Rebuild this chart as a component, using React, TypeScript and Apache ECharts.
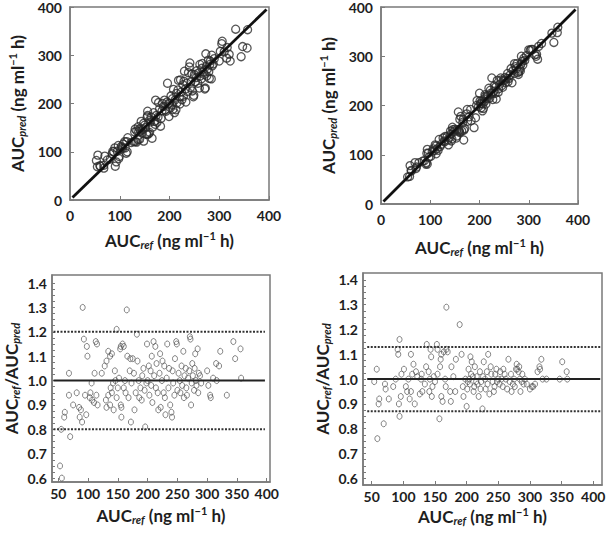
import React, { useEffect, useRef } from "react";
import * as echarts from "echarts";

// ---- Data: left column (panel A) ----
const refA = [
  53, 56, 55, 60, 61, 68, 68, 70, 75, 81, 85, 86, 88, 90, 91, 93, 95, 97, 98, 99,
  103, 104, 106, 107, 110, 111, 113, 115, 114, 116, 123, 128, 130, 131, 131, 134, 134, 137, 137, 138, 140, 140, 142, 143, 145, 146, 148, 148, 150,
  152, 154, 155, 155, 156, 156, 158, 160, 160, 162, 163, 165, 166, 168, 170, 171, 172, 173, 175, 177, 178, 180, 182, 183, 185, 186, 188, 190, 191, 193, 195, 196, 198, 199,
  200, 202, 203, 205, 206, 207, 208, 210, 211, 213, 214, 215, 217, 218, 220, 221, 222, 224, 225, 227, 228, 229, 230, 232, 233, 235, 236, 238, 240, 241, 242, 243, 245, 246, 248, 249, 250,
  252, 254, 255, 257, 258, 260, 261, 262, 264, 265, 266, 268, 270, 271, 272, 273, 274, 275, 276, 278, 279, 280, 281, 282, 284, 285, 286, 288, 290,
  300, 302, 305, 306, 310, 315, 316, 320, 322, 333, 344, 347, 356, 357,
];
const predA = [
  82, 93, 69, 71, 70, 72, 66, 91, 83, 85, 96, 101, 100, 108, 70, 79, 101, 113, 86, 90,
  111, 109, 107, 116, 121, 108, 97, 100, 121, 129, 119, 121, 141, 121, 147, 120, 143, 125, 152, 142, 126, 147, 143, 163, 139, 146, 122, 159, 155,
  150, 136, 136, 172, 175, 184, 137, 140, 165, 162, 172, 128, 151, 181, 163, 157, 207, 175, 161, 172, 202, 189, 153, 169, 185, 200, 194, 207, 187, 184, 203, 242, 200, 173,
  200, 191, 216, 197, 210, 188, 229, 181, 207, 187, 221, 201, 228, 248, 214, 199, 249, 224, 208, 239, 215, 246, 267, 230, 203, 242, 225, 264, 276, 284, 233, 245, 261, 226, 214, 217, 260,
  245, 254, 268, 242, 263, 232, 281, 257, 251, 273, 283, 265, 260, 230, 232, 303, 277, 257, 271, 290, 266, 252, 281, 288, 251, 300, 278, 282, 293,
  288, 308, 324, 329, 307, 294, 316, 302, 288, 354, 297, 318, 315, 353,
];
const ratioA = [
  0.65, 0.6, 0.8, 0.85, 0.87, 0.94, 1.03, 0.77, 0.9, 0.95, 0.89, 0.85, 0.88, 0.83, 1.3, 1.17, 0.94, 0.86, 1.14, 1.1,
  0.93, 0.95, 0.99, 0.92, 0.91, 1.03, 1.16, 1.15, 0.94, 0.9, 1.03, 1.06, 0.92, 1.08, 0.89, 1.12, 0.94, 1.1, 0.9, 0.97, 1.11, 0.95, 0.99, 0.88, 1.04, 1.0, 1.21, 0.93, 0.97,
  1.01, 1.13, 1.14, 0.9, 0.89, 0.85, 1.15, 1.14, 0.97, 1.0, 0.95, 1.29, 1.1, 0.93, 1.04, 1.09, 0.83, 0.99, 1.09, 1.03, 0.88, 0.95, 1.19, 1.08, 1.0, 0.93, 0.97, 0.92, 1.02, 1.05, 0.96, 0.81, 0.99, 1.15,
  1.0, 1.06, 0.94, 1.04, 0.98, 1.1, 0.91, 1.16, 1.02, 1.14, 0.97, 1.07, 0.95, 0.88, 1.03, 1.11, 0.89, 1.0, 1.08, 0.95, 1.06, 0.93, 0.86, 1.01, 1.15, 0.97, 1.05, 0.9, 0.87, 0.85, 1.04, 0.99, 0.94, 1.09, 1.16, 1.15, 0.96,
  1.03, 1.0, 0.95, 1.06, 0.98, 1.12, 0.93, 1.02, 1.05, 0.97, 0.94, 1.01, 1.04, 1.18, 1.17, 0.9, 0.99, 1.07, 1.02, 0.96, 1.05, 1.11, 1.0, 0.98, 1.13, 0.95, 1.03, 1.02, 0.99,
  1.04, 0.98, 0.94, 0.93, 1.01, 1.07, 1.0, 1.06, 1.12, 0.94, 1.16, 1.09, 1.13, 1.01,
];

// ---- Data: right column (panel B) ----
const refB = [
  54, 58, 59, 62, 61, 69, 71, 72, 77, 84, 94, 91, 92, 93, 94, 96, 97, 101, 104, 106,
  108, 110, 112, 114, 116, 118, 122, 126, 129, 130, 134, 136, 137, 140, 141, 142, 143, 144, 145, 146,
  148, 153, 154, 157, 154, 158, 159, 160, 160, 162, 164, 166, 167, 168, 170, 168, 174, 175, 176, 179,
  182, 183, 189, 192, 194, 195, 200, 201, 203, 204, 205, 206, 208, 210, 211, 213, 215, 217, 219, 221,
  223, 225, 227, 229, 230, 232, 234, 236, 239, 241, 243, 245, 247, 250, 252, 255, 258, 260, 266, 268,
  271, 273, 275, 279, 280, 282, 283, 285, 287, 288, 292, 295, 305, 308, 312, 315, 318, 326, 347, 351,
  358, 359,
  198, 202, 207, 212, 216, 222, 226, 233, 238, 244, 248, 253, 257, 262, 264, 270, 276, 278, 284, 290,
  300, 303, 316, 320, 150, 128, 120, 112, 88,
];
const predB = [
  55, 56, 78, 67, 68, 84, 72, 75, 84, 87, 81, 81, 84, 103, 111, 103, 95, 97, 107, 112,
  108, 120, 102, 112, 109, 131, 121, 134, 126, 137, 137, 130, 120, 136, 148, 142, 128, 132, 156, 151,
  147, 134, 138, 187, 151, 150, 147, 145, 172, 178, 148, 166, 172, 150, 153, 130, 183, 192, 168, 177,
  192, 169, 155, 175, 200, 210, 225, 209, 195, 204, 209, 189, 194, 208, 222, 203, 217, 221, 235, 215,
  225, 256, 212, 229, 240, 225, 213, 251, 234, 243, 256, 240, 237, 250, 257, 255, 248, 255, 246, 271,
  285, 279, 275, 263, 269, 274, 270, 300, 290, 282, 292, 301, 314, 314, 303, 300, 294, 326, 347, 328,
  348, 359,
  198, 204, 203, 219, 214, 231, 224, 238, 227, 252, 251, 246, 265, 262, 275, 265, 285, 267, 284, 296,
  313, 312, 304, 320, 152, 128, 117, 118, 88,
];
const ratioB = [
  0.99, 1.04, 0.76, 0.92, 0.9, 0.82, 0.98, 0.96, 0.92, 0.97, 1.16, 1.12, 1.1, 0.9, 0.85, 0.93, 1.02, 1.04, 0.97, 0.95,
  1.0, 0.92, 1.1, 1.02, 1.06, 0.9, 1.01, 0.94, 1.02, 0.95, 0.98, 1.05, 1.14, 1.03, 0.95, 1.0, 1.12, 1.09, 0.93, 0.97,
  1.01, 1.14, 1.12, 0.84, 1.02, 1.05, 1.08, 1.1, 0.93, 0.91, 1.11, 1.0, 0.97, 1.12, 1.11, 1.29, 0.95, 0.91, 1.05, 1.01,
  0.95, 1.08, 1.22, 1.1, 0.97, 0.93, 0.89, 0.96, 1.04, 1.0, 0.98, 1.09, 1.07, 1.01, 0.95, 1.05, 0.99, 0.98, 0.93, 1.03,
  0.99, 0.88, 1.07, 1.0, 0.96, 1.03, 1.1, 0.94, 1.02, 0.99, 0.95, 1.02, 1.04, 1.0, 0.98, 1.0, 1.04, 1.02, 1.08, 0.99,
  0.95, 0.98, 1.0, 1.06, 1.04, 1.03, 1.05, 0.95, 0.99, 1.02, 1.0, 0.98, 0.97, 0.98, 1.03, 1.05, 1.08, 1.0, 1.0, 1.07,
  1.03, 1.0,
  1.0, 0.99, 1.02, 0.97, 1.01, 0.96, 1.01, 0.98, 1.05, 0.97, 0.99, 1.03, 0.97, 1.0, 0.96, 1.02, 0.97, 1.04, 1.0, 0.98,
  0.96, 0.97, 1.04, 1.0, 0.99, 1.0, 1.03, 0.95, 1.0,
];

// ---- Reference lines and ticks ----
const identityEnds = [5, 395];
const unityRatio = 1.0;
const limitsA = [0.8, 1.2];
const limitsB = [0.87, 1.13];
const spanA = [42, 397];
const spanB = [43, 411];
const refTicks = [50, 100, 150, 200, 250, 300, 350, 400];
const ratioTicks = [0.6, 0.7, 0.8, 0.9, 1.0, 1.1, 1.2, 1.3, 1.4];

const FONT = "Lato";
const FRAME = "#7a7a7a";
const TEXT = "#1e1e1e";

const minorRatioTicks: number[] = [];
for (let i = 0; i < ratioTicks.length - 1; i++) {
  for (let k = 0; k < 4; k++) {
    minorRatioTicks.push(+(ratioTicks[i] + (k * 0.1) / 4).toFixed(3));
  }
}
minorRatioTicks.push(ratioTicks[ratioTicks.length - 1]);

const rich = {
  a: { fontFamily: FONT, fontWeight: "bold", fontSize: 17, color: TEXT, lineHeight: 20 },
  s: { fontFamily: FONT, fontWeight: "bold", fontStyle: "italic", fontSize: 11, color: TEXT, lineHeight: 11, verticalAlign: "bottom" },
  p: { fontFamily: FONT, fontWeight: "bold", fontSize: 11, color: TEXT, lineHeight: 11, verticalAlign: "top" },
};
const refName = "{a|AUC}{s|ref}{a| (ng ml}{p|−1}{a| h)}";
const predName = "{a|AUC}{s|pred}{a| (ng ml}{p|−1}{a| h)}";
const ratioName = "{a|AUC}{s|ref}{a|/AUC}{s|pred}";

const labelStyle = { fontFamily: FONT, fontWeight: "bold", fontSize: 14, color: TEXT };

function aucXAxis(grid: number, gap: number) {
  return {
    gridIndex: grid, type: "value", min: 0, max: 400, interval: 100,
    axisLine: { show: true, onZero: false, lineStyle: { color: FRAME, width: 1.5 } },
    axisTick: { show: true, inside: true, length: 4, lineStyle: { color: FRAME } },
    axisLabel: { ...labelStyle, margin: 8 },
    splitLine: { show: false },
    name: refName, nameLocation: "middle", nameGap: gap,
    nameTextStyle: { rich },
  };
}
function aucYAxis(grid: number, gap: number) {
  return {
    gridIndex: grid, type: "value", min: 0, max: 400, interval: 100,
    axisLine: { show: true, onZero: false, lineStyle: { color: FRAME, width: 1.5 } },
    axisTick: { show: true, inside: true, length: 4, lineStyle: { color: FRAME } },
    axisLabel: { ...labelStyle, margin: 8 },
    splitLine: { show: false },
    name: predName, nameLocation: "middle", nameGap: gap, nameRotate: 90,
    nameTextStyle: { rich },
  };
}
function refXAxis(grid: number, min: number, max: number, gap: number) {
  return {
    gridIndex: grid, type: "value", min, max,
    axisLine: { show: true, onZero: false, lineStyle: { color: FRAME, width: 1.5 } },
    axisTick: { show: true, inside: true, length: 4, customValues: refTicks, lineStyle: { color: FRAME } },
    axisLabel: { ...labelStyle, margin: 4, customValues: refTicks },
    splitLine: { show: false },
    name: refName, nameLocation: "middle", nameGap: gap,
    nameTextStyle: { rich },
  };
}
function ratioYAxis(grid: number, min: number, max: number, gap: number) {
  return {
    gridIndex: grid, type: "value", min, max,
    axisLine: { show: true, onZero: false, lineStyle: { color: FRAME, width: 1.5 } },
    axisTick: { show: true, inside: true, length: 3, customValues: minorRatioTicks, lineStyle: { color: FRAME } },
    axisLabel: { ...labelStyle, margin: 5, customValues: ratioTicks, formatter: (v: number) => v.toFixed(1) },
    splitLine: { show: false },
    name: ratioName, nameLocation: "middle", nameGap: gap, nameRotate: 90,
    nameTextStyle: { rich },
  };
}

const topScatterStyle = { color: "rgba(255,255,255,0)", borderColor: "#2a2a2a", borderWidth: 1.3 };
const botScatterStyle = { color: "rgba(255,255,255,0)", borderColor: "#555", borderWidth: 0.9 };

function buildOption() {
  const pairs = (xs: number[], ys: number[]) => xs.map((x, i) => [x, ys[i]]);
  const identity = identityEnds.map((v) => [v, v]);
  const hline = (y: number, span: number[]) => span.map((x) => [x, y]);
  const lineSeries = (xi: number, data: number[][], width: number, type: any, color: string) => ({
    type: "line", xAxisIndex: xi, yAxisIndex: xi, data, symbol: "none", silent: true, z: 4,
    lineStyle: { color, width, type },
  });
  return {
    animation: false,
    backgroundColor: "#fff",
    grid: [
      { left: 70, top: 6, width: 199, height: 194, show: true, borderColor: FRAME, borderWidth: 1.5 },
      { left: 381, top: 7, width: 197, height: 197, show: true, borderColor: FRAME, borderWidth: 1.5 },
      { left: 52, top: 275, width: 218, height: 207, show: true, borderColor: FRAME, borderWidth: 1.5 },
      { left: 363, top: 273, width: 239, height: 212, show: true, borderColor: FRAME, borderWidth: 1.5 },
    ],
    xAxis: [
      aucXAxis(0, 30),
      aucXAxis(1, 33),
      refXAxis(2, 39.5, 405.5, 23),
      refXAxis(3, 36.3, 413.8, 21),
    ],
    yAxis: [
      aucYAxis(0, 43),
      aucYAxis(1, 43),
      ratioYAxis(2, 0.584, 1.433, 31),
      ratioYAxis(3, 0.573, 1.428, 31),
    ],
    series: [
      { type: "scatter", xAxisIndex: 0, yAxisIndex: 0, data: pairs(refA, predA), symbol: "circle", symbolSize: 8, itemStyle: topScatterStyle, z: 2 },
      lineSeries(0, identity, 2.8, "solid", "#111"),
      { type: "scatter", xAxisIndex: 1, yAxisIndex: 1, data: pairs(refB, predB), symbol: "circle", symbolSize: 8, itemStyle: topScatterStyle, z: 2 },
      lineSeries(1, identity, 2.8, "solid", "#111"),
      { type: "scatter", xAxisIndex: 2, yAxisIndex: 2, data: pairs(refA, ratioA), symbol: "circle", symbolSize: [5, 6], itemStyle: botScatterStyle, z: 2 },
      lineSeries(2, hline(unityRatio, spanA), 2, "solid", "#222"),
      lineSeries(2, hline(limitsA[0], spanA), 2, [2, 1.5], "#333"),
      lineSeries(2, hline(limitsA[1], spanA), 2, [2, 1.5], "#333"),
      { type: "scatter", xAxisIndex: 3, yAxisIndex: 3, data: pairs(refB, ratioB), symbol: "circle", symbolSize: [5, 6], itemStyle: botScatterStyle, z: 2 },
      lineSeries(3, hline(unityRatio, spanB), 2, "solid", "#222"),
      lineSeries(3, hline(limitsB[0], spanB), 2, [2, 1.5], "#333"),
      lineSeries(3, hline(limitsB[1], spanB), 2, [2, 1.5], "#333"),
    ],
  };
}

export default function App() {
  const ref = useRef<HTMLDivElement>(null);
  useEffect(() => {
    if (!ref.current) return;
    const chart = echarts.init(ref.current, null, { renderer: "svg" });
    chart.setOption(buildOption() as any);
    return () => chart.dispose();
  }, []);
  return (
    <div
      ref={ref}
      style={{ position: "absolute", left: 0, top: 0, width: 614, height: 534, background: "#fff" }}
    />
  );
}
